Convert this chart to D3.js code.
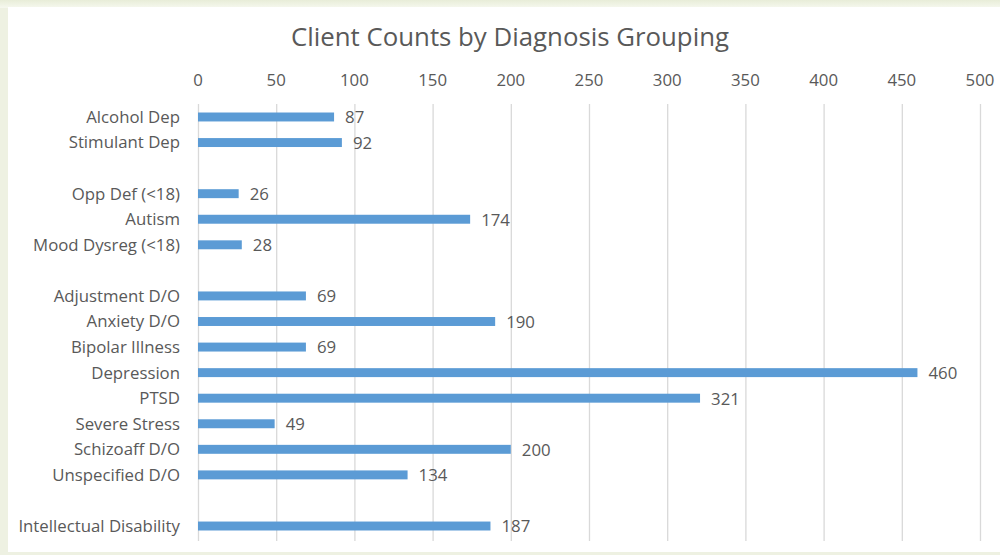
<!DOCTYPE html>
<html><head><meta charset="utf-8">
<script src="https://cdn.jsdelivr.net/npm/d3@7"></script>
<style>html,body{margin:0;padding:0;background:#eef1e2;}svg{display:block;}</style>
</head><body>
<svg id="c" width="1000" height="555"></svg>
<script>
const categories = ["Alcohol Dep","Stimulant Dep","","Opp Def (<18)","Autism","Mood Dysreg (<18)","","Adjustment D/O","Anxiety D/O","Bipolar Illness","Depression","PTSD","Severe Stress","Schizoaff D/O","Unspecified D/O","","Intellectual Disability"];
const values = [87,92,null,26,174,28,null,69,190,69,460,321,49,200,134,null,187];
const tickValues = [0,50,100,150,200,250,300,350,400,450,500];
const title = "Client Counts by Diagnosis Grouping";

const svg = d3.select("#c");
const font = "'Open Sans', sans-serif";
const txt = "#595959";

// frame
const defs = svg.append("defs");
const g1 = defs.append("linearGradient").attr("id","tg").attr("x1",0).attr("y1",0).attr("x2",0).attr("y2",1);
g1.append("stop").attr("offset","0").attr("stop-color","#e8edd8");
g1.append("stop").attr("offset","1").attr("stop-color","#f6f8ef");
svg.append("rect").attr("x",0).attr("y",0).attr("width",1000).attr("height",555).attr("fill","#eef1e2");
svg.append("rect").attr("x",0).attr("y",0).attr("width",1000).attr("height",8).attr("fill","url(#tg)");
svg.append("rect").attr("x",8).attr("y",7).attr("width",992).attr("height",545).attr("fill","#ffffff");

const x = d3.scaleLinear().domain([0,500]).range([198,980]);
const y = d3.scaleBand().domain(d3.range(categories.length)).range([104.2,538.8]).paddingInner(0.65).paddingOuter(0.325);

// gridlines
svg.append("g").selectAll("line").data(tickValues).join("line")
  .attr("x1",d=>x(d)+0.5).attr("x2",d=>x(d)+0.5)
  .attr("y1",104).attr("y2",541)
  .attr("stroke","#d9d9d9").attr("stroke-width",1.3);

// top axis labels
svg.append("g").selectAll("text").data(tickValues).join("text")
  .attr("x",d=>x(d)).attr("y",86)
  .attr("text-anchor","middle")
  .attr("font-family",font).attr("font-size",16.8).attr("fill",txt)
  .text(d=>d);

// category labels
svg.append("g").selectAll("text").data(categories).join("text")
  .attr("x",180).attr("y",(d,i)=>y(i)+y.bandwidth()/2)
  .attr("dy","0.35em").attr("text-anchor","end")
  .attr("font-family",font).attr("font-size",16.8).attr("fill",txt)
  .text(d=>d);

const data = values.map((v,i)=>({i,v})).filter(d=>d.v!=null);

// bars
svg.append("g").selectAll("rect").data(data).join("rect")
  .attr("x",x(0)).attr("y",d=>y(d.i))
  .attr("width",d=>x(d.v)-x(0)).attr("height",y.bandwidth())
  .attr("fill","#5b9bd5");

// value labels
svg.append("g").selectAll("text").data(data).join("text")
  .attr("x",d=>x(d.v)+11).attr("y",d=>y(d.i)+y.bandwidth()/2)
  .attr("dy","0.38em")
  .attr("font-family",font).attr("font-size",16.8).attr("fill",txt)
  .text(d=>d.v);

// title
svg.append("text").attr("x",510).attr("y",46).attr("text-anchor","middle")
  .attr("font-family",font).attr("font-size",25.8).attr("fill",txt)
  .text(title);
</script>
</body></html>
